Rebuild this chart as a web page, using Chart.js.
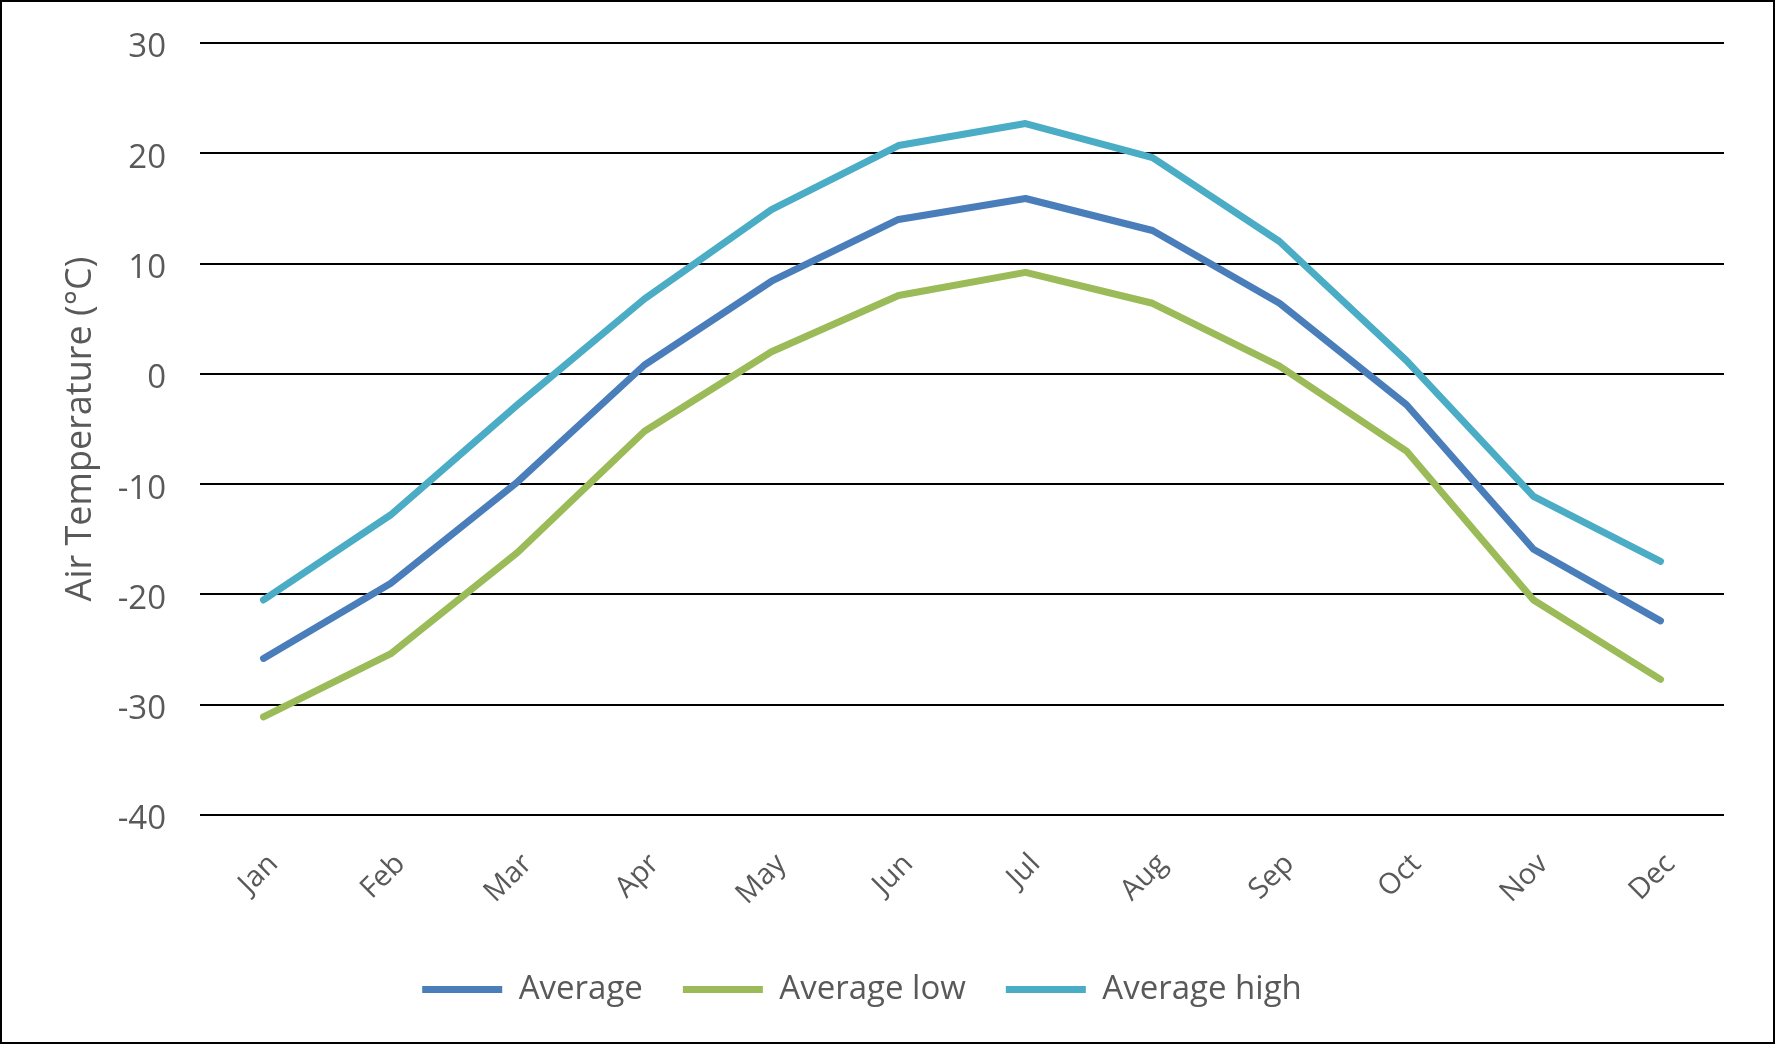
<!DOCTYPE html>
<html>
<head>
<meta charset="utf-8">
<script src="https://cdn.jsdelivr.net/npm/chart.js@4"></script>
<style>
  html, body { margin: 0; padding: 0; background: #fff; }
  #wrap { position: relative; width: 1775px; height: 1044px; }
</style>
</head>
<body>
<div id="wrap"><canvas id="chart"></canvas></div>
<script>
// datos
const months = ["Jan","Feb","Mar","Apr","May","Jun","Jul","Aug","Sep","Oct","Nov","Dec"];
const average = [-25.8, -19.0, -9.8, 0.8, 8.4, 14.0, 15.9, 13.0, 6.4, -2.8, -15.9, -22.4];
const averageLow = [-31.1, -25.4, -16.2, -5.2, 2.0, 7.1, 9.2, 6.4, 0.7, -7.0, -20.5, -27.7];
const averageHigh = [-20.5, -12.8, -2.8, 6.8, 14.9, 20.7, 22.7, 19.6, 12.0, 1.2, -11.1, -17.0];
const yMin = -40, yMax = 30, yStep = 10;

const textColor = '#595959';
const fontFam = '"Open Sans", "Noto Sans", sans-serif';

// marco negro alrededor de la imagen
const framePlugin = {
    id: 'frame',
    afterDraw(chart){
        const ctx = chart.ctx;
        ctx.save();
        ctx.strokeStyle = '#000';
        ctx.lineWidth = 2;
        ctx.strokeRect(1, 1, chart.width - 2, chart.height - 2);
        ctx.restore();
    }
};

function serie(label, data, color){
    return {
        label: label,
        data: data,
        borderColor: color,
        backgroundColor: color,
        borderWidth: 7,
        borderCapStyle: 'round',
        borderJoinStyle: 'round',
        pointRadius: 0,
        pointHoverRadius: 0,
        tension: 0,
        fill: false
    };
}

const ctx = document.getElementById('chart').getContext('2d');
new Chart(ctx, {
    type: 'line',
    data: {
        labels: months,
        datasets: [
            serie('Average', average, '#4A7EBB'),
            serie('Average low', averageLow, '#9BBB59'),
            serie('Average high', averageHigh, '#4BACC6')
        ]
    },
    options: {
        responsive: true,
        maintainAspectRatio: false,
        animation: false,
        layout: { padding: { top: 43, right: 51, bottom: 28, left: 0 } },
        plugins: {
            legend: {
                position: 'bottom',
                labels: {
                    usePointStyle: true,
                    pointStyle: 'line',
                    pointStyleWidth: 80,
                    boxHeight: 33,
                    padding: 40,
                    color: textColor,
                    font: { family: fontFam, size: 33 }
                }
            },
            tooltip: { enabled: false }
        },
        scales: {
            x: {
                offset: true,
                grid: { display: false, drawTicks: false },
                border: { display: false },
                ticks: {
                    minRotation: 45,
                    maxRotation: 45,
                    padding: 32,
                    labelOffset: 10,
                    color: textColor,
                    font: { family: fontFam, size: 29 }
                },
                afterFit(scale){ scale.height = 118; }
            },
            y: {
                min: yMin,
                max: yMax,
                grid: { color: '#000', lineWidth: 2, drawTicks: false },
                border: { display: false },
                ticks: {
                    stepSize: yStep,
                    padding: 34,
                    labelOffset: 5,
                    color: textColor,
                    font: { family: fontFam, size: 33 }
                },
                title: {
                    display: true,
                    text: 'Air Temperature (°C)',
                    color: textColor,
                    font: { family: fontFam, size: 36 },
                    padding: { top: 59, bottom: 0 }
                },
                afterFit(scale){
                    scale.width = 200;
                    // el padding de los ticks no debe empujar el area del grafico
                    scale.paddingTop = 0;
                    scale.paddingBottom = 0;
                }
            }
        }
    },
    plugins: [framePlugin]
});
</script>
</body>
</html>
